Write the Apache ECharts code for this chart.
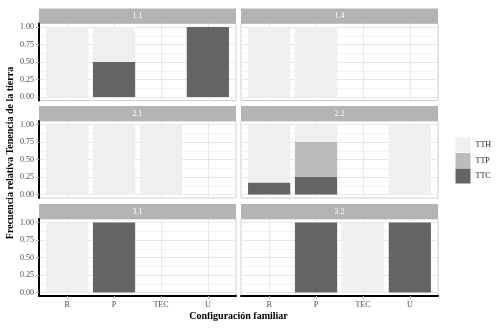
<!DOCTYPE html>
<html><head><meta charset="utf-8">
<script src="https://cdn.jsdelivr.net/npm/echarts@6/dist/echarts.min.js"></script>
<style>html,body{margin:0;padding:0;background:#fff}#c{width:499px;height:328px}</style>
</head><body><div id="c"></div>
<script>
// ---- data ----
const facets = ['1.1', '1.4', '2.1', '2.2', '3.1', '3.2'];
const categories = ['B', 'P', 'TEC', 'U'];
const legendOrder = ['TTH', 'TTP', 'TTC'];
const yTicks = [0, 0.25, 0.5, 0.75, 1];
const yMinorTicks = [0.125, 0.375, 0.625, 0.875];
// proportions per facet (rows) and category (columns)
const TTC = [
  [0, 0.5, 0, 1],
  [0, 0, 0, 0],
  [0, 0, 0, 0],
  [0.17, 0.25, 0, 0],
  [0, 1, 0, 0],
  [0, 1, 0, 1]
];
const TTP = [
  [0, 0, 0, 0],
  [0, 0, 0, 0],
  [0, 0, 0, 0],
  [0, 0.5, 0, 0],
  [0, 0, 0, 0],
  [0, 0, 0, 0]
];
const TTH = [
  [1, 0.5, 0, 0],
  [1, 1, 0, 0],
  [1, 1, 1, 0],
  [0.83, 0.25, 0, 1],
  [1, 0, 0, 0],
  [0, 0, 1, 0]
];

// ---- styling / layout ----
const FONT = '"Liberation Serif", "DejaVu Serif", serif';
const fillColors = { TTC: '#646464', TTP: '#bcbcbc', TTH: '#efefef' };
const seriesData = { TTC: TTC, TTP: TTP, TTH: TTH };
const stackOrder = ['TTC', 'TTP', 'TTH'];
const colLeft = [39, 241];
const rowTop = [23.5, 121, 219];
const panelW = 197, panelH = 77, stripH = 15;
const unit = panelW / 4.2; // discrete scale expanded by 0.6 on each side
const catPos = categories.map((c, k) => k + 1);
const n = facets.length;

const grids = [], xAxes = [], yAxes = [], series = [], graphics = [];
// panel grids (background, gridlines, axes)
facets.forEach((f, i) => {
  const col = i % 2, row = Math.floor(i / 2);
  const left = colLeft[col], top = rowTop[row];
  grids.push({
    left: left, top: top, width: panelW, height: panelH,
    show: true, backgroundColor: '#fff', borderColor: '#cfcfcf', borderWidth: 1
  });
  const bottomRow = row === 2, leftCol = col === 0;
  xAxes.push({
    gridIndex: i, type: 'value', min: 0.4, max: 4.6,
    axisLine: { show: bottomRow, onZero: false, lineStyle: { color: '#000', width: 2 } },
    axisTick: { show: bottomRow, length: 3, customValues: catPos, lineStyle: { color: '#b3b3b3' } },
    axisLabel: {
      show: bottomRow, customValues: catPos, margin: 5,
      formatter: v => categories[Math.round(v) - 1],
      fontFamily: FONT, fontSize: 8, color: '#4d4d4d'
    },
    splitLine: { show: true, lineStyle: { color: '#e8e8e8', width: 1 } }
  });
  yAxes.push({
    gridIndex: i, type: 'value', min: -0.05, max: 1.05, position: 'left',
    axisLine: { show: leftCol, onZero: false, lineStyle: { color: '#000', width: 2 } },
    axisTick: { show: leftCol, length: 3, customValues: yTicks, lineStyle: { color: '#b3b3b3' } },
    axisLabel: {
      show: leftCol, customValues: yTicks, margin: 5,
      formatter: v => v.toFixed(2),
      fontFamily: FONT, fontSize: 8, color: '#4d4d4d'
    },
    splitLine: { show: true, lineStyle: { color: '#e8e8e8', width: 1 } }
  });
  yAxes.push({
    gridIndex: i, type: 'value', min: -0.05, max: 1.05, position: 'right',
    axisLine: { show: false }, axisLabel: { show: false, customValues: yMinorTicks },
    axisTick: { show: false, customValues: yMinorTicks },
    splitLine: { show: true, lineStyle: { color: '#f3f3f3', width: 1 } }
  });
  graphics.push({
    type: 'rect', shape: { x: left, y: top - stripH, width: panelW, height: stripH },
    style: { fill: '#b3b3b3' }
  });
  graphics.push({
    type: 'text', x: left + panelW / 2, y: top - stripH / 2,
    style: { text: f, fill: '#fff', font: '8px ' + FONT, align: 'center', verticalAlign: 'middle' }
  });
});
// bar grids (category axis spanning the 4 category bands of each panel)
facets.forEach((f, i) => {
  const col = i % 2, row = Math.floor(i / 2);
  const g = n + i;
  grids.push({
    left: colLeft[col] + 0.1 * unit, top: rowTop[row], width: 4 * unit, height: panelH, show: false
  });
  xAxes.push({
    gridIndex: g, type: 'category', data: categories, boundaryGap: true,
    axisLine: { show: false }, axisTick: { show: false }, axisLabel: { show: false }, splitLine: { show: false }
  });
  yAxes.push({
    gridIndex: g, type: 'value', min: -0.05, max: 1.05,
    axisLine: { show: false }, axisTick: { show: false }, axisLabel: { show: false }, splitLine: { show: false }
  });
  stackOrder.forEach(name => {
    series.push({
      type: 'bar', name: name, xAxisIndex: g, yAxisIndex: 2 * n + i, stack: 'f' + i,
      barWidth: '90%', silent: true,
      itemStyle: { color: fillColors[name] },
      data: seriesData[name][i]
    });
  });
});
graphics.push({
  type: 'text', x: 10, y: 153, rotation: Math.PI / 2,
  style: { text: 'Frecuencia relativa Tenencia de la tierra', fill: '#000',
    font: 'bold 10px ' + FONT, align: 'center', verticalAlign: 'middle' }
});
graphics.push({
  type: 'text', x: 238.5, y: 316,
  style: { text: 'Configuración familiar', fill: '#000',
    font: 'bold 10px ' + FONT, align: 'center', verticalAlign: 'middle' }
});

const chart = echarts.init(document.getElementById('c'), null, { renderer: 'canvas' });
chart.setOption({
  animation: false,
  backgroundColor: '#fff',
  grid: grids, xAxis: xAxes, yAxis: yAxes, series: series,
  legend: {
    data: legendOrder, orient: 'vertical', left: 455.5, top: 137.5, padding: 0,
    itemWidth: 15, itemHeight: 15, itemGap: 0.5, icon: 'rect', selectedMode: false,
    textStyle: { fontFamily: FONT, fontSize: 8, color: '#1a1a1a' }
  },
  graphic: graphics
});
</script></body></html>
